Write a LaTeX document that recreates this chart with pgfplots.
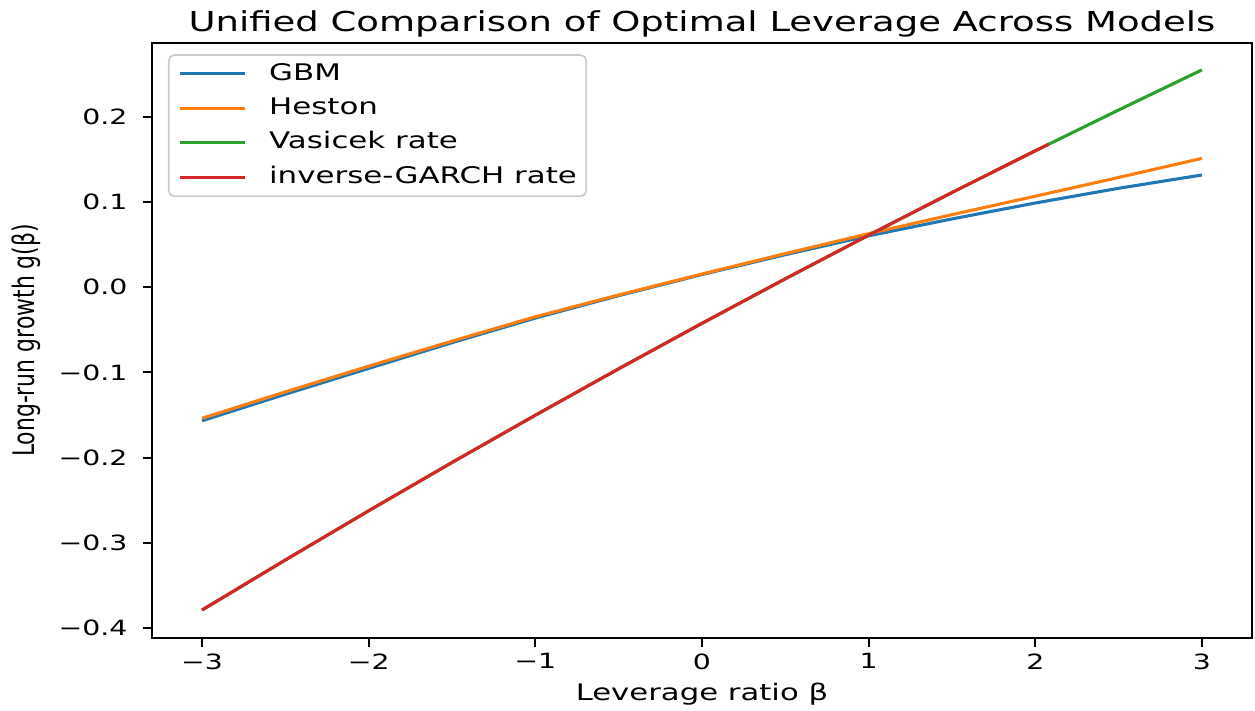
\documentclass[border=0pt]{standalone}
\usepackage{fontspec}
\setmainfont{DejaVu Sans}[FakeStretch=1.35]
\newfontfamily\ylabfont{DejaVu Sans}[FakeStretch=0.74]
\usepackage{pgfplots}
\pgfplotsset{compat=1.18}

\definecolor{tabblue}{HTML}{1F77B4}
\definecolor{taborange}{HTML}{FF7F0E}
\definecolor{tabgreen}{HTML}{2CA02C}
\definecolor{tabred}{HTML}{D62728}

% long-run growth g(beta) for each model
\pgfplotstableread{
beta g
-3   -0.1567
-2.5 -0.1255
-2   -0.0952
-1.5 -0.0650
-1   -0.0361
-0.5 -0.0098
0     0.0150
0.5   0.0383
1     0.0605
1.5   0.0803
2     0.0990
2.5   0.1163
3     0.1319
}\gbm
\pgfplotstableread{
beta g
-3   -0.1538
-2.5 -0.1228
-2   -0.0926
-1.5 -0.0632
-1   -0.0346
-0.5 -0.0090
0     0.0156
0.5   0.0396
1     0.0630
1.5   0.0853
2     0.1070
2.5   0.1290
3     0.1514
}\heston
\pgfplotstableread{
beta g
-3   -0.3790
-2.5 -0.3202
-2   -0.2624
-1.5 -0.2057
-1   -0.1502
-0.5 -0.0957
0    -0.0423
0.5   0.0100
1     0.0612
1.5   0.1113
2     0.1603
2.5   0.2082
3     0.2553
}\vasicek
\pgfplotstableread{
beta g
-3   -0.3790
-2.5 -0.3202
-2   -0.2624
-1.5 -0.2057
-1   -0.1502
-0.5 -0.0957
0    -0.0423
0.5   0.0100
1     0.0612
1.5   0.1113
2     0.1603
2.08  0.1680
}\garch

\begin{document}
\begin{tikzpicture}
\useasboundingbox (-68.8pt,-33.0pt) rectangle (499.1pt,288.7pt);
\begin{axis}[
  at={(0pt,0pt)}, anchor=south west,
  scale only axis, width=497.7pt, height=269.2pt,
  xmin=-3.3, xmax=3.3, ymin=-0.4118, ymax=0.2868,
  axis line style={line width=0.9pt},
  tick align=outside, major tick length=4pt,
  xtick pos=bottom, ytick pos=left,
  tick style={black, line width=0.9pt},
  xtick={-3,-2,-1,0,1,2,3},
  xticklabels={−3,−2,−1,0,1,2,3},
  ytick={-0.4,-0.3,-0.2,-0.1,0,0.1,0.2},
  yticklabels={−0.4,−0.3,−0.2,−0.1,0.0,0.1,0.2},
  ticklabel style={font=\fontsize{9.5}{11}\selectfont, inner sep=0pt},
  xticklabel style={yshift=-2.8pt},
  yticklabel style={xshift=-6.9pt},
  title={Unified Comparison of Optimal Leverage Across Models},
  title style={at={(axis description cs:0.5,1.0201)}, anchor=base, inner sep=0pt,
    yshift=-6.3pt, font=\fontsize{12.4}{14}\selectfont},
  xlabel={Leverage ratio β},
  xlabel style={at={(axis description cs:0.5,-0.1025)}, anchor=base, inner sep=0pt,
    yshift=-0.8pt, font=\fontsize{10.3}{12}\selectfont},
  ylabel={Long-run growth g(β)},
  ylabel style={at={(axis description cs:-0.1073,0.5)}, anchor=base, inner sep=0pt,
    font=\ylabfont\fontsize{13.4}{15}\selectfont},
  legend cell align=left,
  legend image code/.code={\draw[#1] (0pt,0pt) -- (29.4pt,0pt);},
  legend style={at={(axis description cs:0.01447,0.9814)}, anchor=north west,
    draw=black!20, line width=0.8pt, rounded corners=2.5pt, fill=white,
    inner xsep=4.2pt, inner ysep=3.8pt, row sep=6.1pt, column sep=10.4pt,
    font=\fontsize{10.35}{12}\selectfont,
    nodes={inner sep=0pt, text height=7.5pt, text depth=2pt, anchor=west}},
  every axis plot/.append style={line width=1.4pt},
]
\addplot[tabblue] table[x=beta, y=g] {\gbm};
\addlegendentry{GBM}
\addplot[taborange] table[x=beta, y=g] {\heston};
\addlegendentry{Heston}
\addplot[tabgreen] table[x=beta, y=g] {\vasicek};
\addlegendentry{Vasicek rate}
\addplot[tabred] table[x=beta, y=g] {\garch};
\addlegendentry{inverse-GARCH rate}
\end{axis}
\end{tikzpicture}
\end{document}
